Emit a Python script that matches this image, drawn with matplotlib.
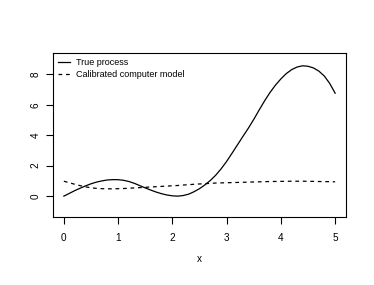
import matplotlib
matplotlib.use("Agg")
import matplotlib.pyplot as plt

x_vals = [0.0, 0.1, 0.2, 0.3, 0.4, 0.5, 0.6, 0.7, 0.8, 0.9,
          1.0, 1.1, 1.2, 1.3, 1.4, 1.5, 1.6, 1.7, 1.8, 1.9,
          2.0, 2.1, 2.2, 2.3, 2.4, 2.5, 2.6, 2.7, 2.8, 2.9,
          3.0, 3.1, 3.2, 3.3, 3.4, 3.5, 3.6, 3.7, 3.8, 3.9,
          4.0, 4.1, 4.2, 4.3, 4.4, 4.5, 4.6, 4.7, 4.8, 4.9, 5.0]

true_process = [0.00, 0.18, 0.36, 0.52, 0.675, 0.81, 0.92, 1.00, 1.06, 1.085,
                1.08, 1.04, 0.96, 0.84, 0.69, 0.54, 0.40, 0.27, 0.16, 0.075,
                0.02, 0.00, 0.04, 0.13, 0.29, 0.49, 0.74, 1.03, 1.38, 1.80,
                2.28, 2.82, 3.37, 3.92, 4.46, 5.04, 5.66, 6.26, 6.81, 7.29,
                7.70, 8.05, 8.31, 8.48, 8.56, 8.53, 8.42, 8.21, 7.89, 7.40, 6.76]

computer_model = [0.98, 0.88, 0.78, 0.69, 0.61, 0.55, 0.51, 0.49, 0.48, 0.48,
                  0.49, 0.50, 0.52, 0.54, 0.56, 0.58, 0.60, 0.62, 0.64, 0.66,
                  0.68, 0.70, 0.73, 0.75, 0.78, 0.80, 0.82, 0.84, 0.86, 0.87,
                  0.88, 0.89, 0.90, 0.91, 0.92, 0.93, 0.94, 0.95, 0.96, 0.965,
                  0.97, 0.975, 0.98, 0.98, 0.98, 0.975, 0.97, 0.96, 0.955, 0.95, 0.94]

x_ticks = [0, 1, 2, 3, 4, 5]
y_ticks = [0, 2, 4, 6, 8]
legend_labels = ["True process", "Calibrated computer model"]

plt.rcParams['font.family'] = ['Liberation Sans', 'DejaVu Sans']
fig = plt.figure(figsize=(3.74, 2.85), dpi=100)
ax = fig.add_axes([53/374, 1-217/285, 293/374, 164/285])

ax.plot(x_vals, true_process, color='black', lw=0.9, label=legend_labels[0])
ax.plot(x_vals, computer_model, color='black', lw=0.9, linestyle=(0, (3, 3)),
        label=legend_labels[1])

ax.set_xlim(-0.2, 5.2)
ax.set_ylim(-1.37, 9.4)
ax.set_xticks(x_ticks)
ax.set_yticks(y_ticks)
ax.set_xticklabels([str(t) for t in x_ticks])
ax.set_yticklabels([str(t) for t in y_ticks], rotation=90, va='center')
ax.tick_params(axis='both', direction='out', length=5.2, width=0.8, labelsize=7.2)
ax.tick_params(axis='x', pad=6.5)
ax.tick_params(axis='y', pad=3.8)
for s in ax.spines.values():
    s.set_linewidth(0.8)
ax.set_xlabel('x', fontsize=7.2, labelpad=8)

ax.legend(loc='upper left', frameon=False, fontsize=6.5, handlelength=1.3,
          handletextpad=0.7, borderaxespad=0.25, labelspacing=0.33,
          borderpad=0.3, bbox_to_anchor=(0.0, 1.0))

fig.savefig('out.png', dpi=100)
